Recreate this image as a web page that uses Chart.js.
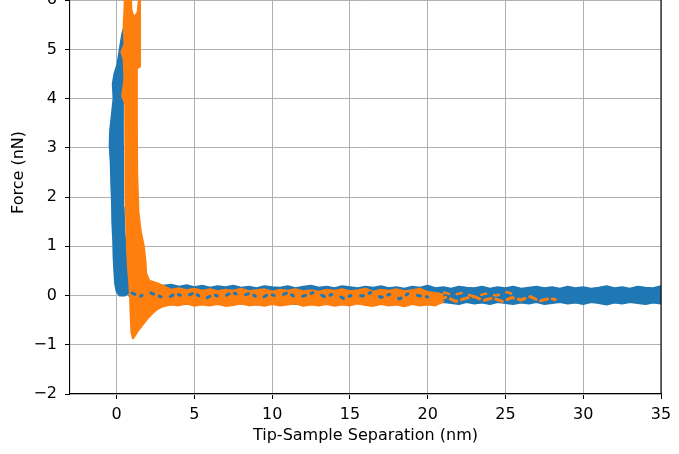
<!DOCTYPE html>
<html><head><meta charset="utf-8">
<script src="https://cdn.jsdelivr.net/npm/chart.js@4.4.1/dist/chart.umd.min.js"></script>
<style>
html,body{margin:0;padding:0;background:#fff;overflow:hidden;width:679px;height:454px}
#wrap{position:relative;width:679px;height:454px;overflow:hidden;background:#fff}
#c{position:absolute;left:0;top:-70px}
</style></head>
<body><div id="wrap"><canvas id="c" width="679" height="524"></canvas></div>
<script>
// ---- axis ticks ----
const xTicks = [0, 5, 10, 15, 20, 25, 30, 35];
const yTicks = [-2, -1, 0, 1, 2, 3, 4, 5, 6];

// ---- approach (blue): contact region outline ----
const blueContactX = [0.55,0.35,0.2,0.05,-0.15,-0.25,-0.2,-0.3,-0.42,-0.45,-0.38,-0.35,-0.3,-0.28,-0.22,-0.2,-0.15,-0.1,0.0,0.2,0.5,0.75,0.9,
                      0.85,0.75,0.6,0.5,0.45,0.42,0.4,0.4,0.42,0.5,0.6,0.62];
const blueContactY = [5.55,5.3,5.0,4.7,4.5,4.3,4.0,3.7,3.35,3.05,2.7,2.3,1.9,1.5,1.1,0.8,0.5,0.25,0.08,0.0,0.0,0.05,0.15,
                      0.35,0.6,0.9,1.3,1.8,2.5,3.2,3.8,4.3,4.8,5.2,5.5];

// ---- approach (blue): non-contact baseline band ----
const blueTailX = [0.8,1.2,1.6,2.0,2.5,3.0,3.5,4.0,4.5,5.0,5.5,6.0,6.5,7.0,7.5,8.0,8.5,9.0,9.5,10.0,10.5,11.0,11.5,12.0,12.5,13.0,13.5,14.0,14.5,15.0,15.5,16.0,16.5,17.0,17.5,18.0,18.5,19.0,19.5,20.0,20.5,21.0,21.5,22.0,22.5,23.0,23.5,24.0,24.5,25.0,25.5,26.0,26.5,27.0,27.5,28.0,28.5,29.0,29.5,30.0,30.5,31.0,31.5,32.0,32.5,33.0,33.5,34.0,34.5,35.0,35.3];
const blueUpper = [0.18,0.22,0.25,0.2,0.24,0.2,0.22,0.18,0.21,0.17,0.2,0.16,0.19,0.17,0.2,0.16,0.18,0.15,0.19,0.17,0.16,0.19,0.15,0.18,0.2,0.16,0.18,0.15,0.19,0.17,0.15,0.18,0.16,0.19,0.15,0.17,0.14,0.18,0.16,0.2,0.15,0.17,0.14,0.18,0.16,0.15,0.18,0.14,0.17,0.15,0.18,0.14,0.16,0.18,0.15,0.17,0.14,0.18,0.15,0.17,0.14,0.16,0.19,0.15,0.17,0.14,0.18,0.16,0.15,0.19,0.17];
const blueLower = [0.0,-0.08,-0.12,-0.1,-0.14,-0.12,-0.16,-0.13,-0.17,-0.14,-0.16,-0.13,-0.17,-0.15,-0.13,-0.16,-0.14,-0.18,-0.15,-0.13,-0.16,-0.14,-0.17,-0.13,-0.15,-0.18,-0.14,-0.16,-0.13,-0.17,-0.14,-0.16,-0.13,-0.15,-0.18,-0.14,-0.16,-0.13,-0.17,-0.14,-0.16,-0.13,-0.15,-0.17,-0.13,-0.16,-0.14,-0.17,-0.13,-0.15,-0.17,-0.14,-0.16,-0.13,-0.17,-0.15,-0.13,-0.16,-0.14,-0.17,-0.13,-0.15,-0.18,-0.14,-0.16,-0.13,-0.15,-0.17,-0.14,-0.16,-0.14];
const blueSpeckX = [1.0,1.5,2.0,2.6,3.2,3.8,4.4,5.0,5.6,6.2,6.8,7.4,8.0,8.6,9.2,9.8,10.4,11.0,11.6,12.2,12.8,13.4,14.0,14.6,15.2,15.8,16.4,17.0,17.6,18.2,18.8,19.4,20.0];
const blueSpeckY = [0.05,-0.02,0.08,0.0,-0.06,0.04,-0.03,0.06,-0.08,0.02,-0.04,0.07,-0.01,0.05,-0.07,0.03,-0.02,0.06,-0.05,0.01,0.08,-0.03,0.04,-0.06,0.02,-0.01,0.07,-0.04,0.03,-0.07,0.05,0.0,-0.03];

// ---- retract (orange): contact + adhesion region outline ----
const orangeContactX = [0.55,0.5,0.45,0.5,0.3,0.45,0.5,0.35,0.55,0.55,0.56,0.58,0.6,0.62,0.66,0.72,0.8,0.86,0.9,0.95,1.05,
                        1.2,1.4,1.7,1.95,2.3,2.6,3.0,3.3,
                        3.3,2.6,2.1,1.9,1.85,1.75,1.55,1.4,1.32,1.3,1.3,1.45,1.5,
                        1.42,1.35,1.1,0.95,0.9];
const orangeContactY = [6.3,5.8,5.5,5.1,4.95,4.8,4.4,4.05,3.9,3.5,3.0,2.5,2.0,1.5,1.0,0.6,0.3,0.0,-0.4,-0.75,-0.87,
                        -0.8,-0.7,-0.58,-0.48,-0.36,-0.28,-0.2,-0.15,
                        0.15,0.25,0.3,0.45,0.7,1.0,1.3,1.7,2.5,3.5,4.6,4.65,6.3,
                        6.0,5.75,5.65,5.8,6.3];

// ---- retract (orange): baseline band ----
const orangeTailX = [1.5,1.8,2.1,2.5,3.0,3.5,4.0,4.5,5.0,5.5,6.0,6.5,7.0,7.5,8.0,8.5,9.0,9.5,10.0,10.5,11.0,11.5,12.0,12.5,13.0,13.5,14.0,14.5,15.0,15.5,16.0,16.5,17.0,17.5,18.0,18.5,19.0,19.5,20.0,20.5,21.0];
const orangeUpper = [0.3,0.22,0.2,0.16,0.18,0.12,0.15,0.11,0.14,0.1,0.13,0.09,0.12,0.1,0.14,0.09,0.11,0.13,0.08,0.12,0.1,0.13,0.09,0.11,0.08,0.12,0.1,0.13,0.09,0.11,0.14,0.08,0.12,0.1,0.13,0.09,0.11,0.14,0.07,0.05,0.02];
const orangeLower = [-0.5,-0.45,-0.35,-0.28,-0.22,-0.18,-0.2,-0.16,-0.21,-0.18,-0.2,-0.17,-0.21,-0.19,-0.16,-0.2,-0.18,-0.21,-0.17,-0.2,-0.18,-0.16,-0.21,-0.18,-0.2,-0.17,-0.21,-0.18,-0.2,-0.16,-0.19,-0.21,-0.17,-0.2,-0.18,-0.22,-0.17,-0.2,-0.18,-0.2,-0.12];
const orangeTailAX = [20.0,20.6,21.2,21.8,22.4,23.0,23.6,24.2,24.8,25.4,26.0,26.6,27.2,27.8,28.2];
const orangeTailAY = [-0.05,-0.1,-0.03,-0.12,-0.06,-0.02,-0.1,-0.05,-0.12,-0.04,-0.09,-0.02,-0.11,-0.06,-0.08];
const orangeTailBX = [19.5,20.2,20.9,21.6,22.3,23.0,23.7,24.4,25.1,25.6];
const orangeTailBY = [0.05,-0.02,0.08,0.01,0.06,-0.03,0.04,0.0,0.07,0.02];

const BLUE = '#1f77b4', ORANGE = '#ff7f0e';
const FONT = {family: "'DejaVu Sans', sans-serif", size: 16};
const pts = (xs, ys) => xs.map((x, i) => ({x: x, y: ys[i]}));
const fmt = v => (v < 0 ? '\u2212' + Math.abs(v) : String(v));

const layers = [
  {data: pts(blueTailX, blueUpper), borderColor: BLUE, borderWidth: 2, fill: false},
  {data: pts(blueTailX, blueLower), borderColor: BLUE, borderWidth: 2, fill: '-1', backgroundColor: BLUE},
  {data: pts(blueContactX, blueContactY), borderColor: BLUE, borderWidth: 2, fill: 'shape', backgroundColor: BLUE},
  {data: pts(orangeTailX, orangeUpper), borderColor: ORANGE, borderWidth: 2, fill: false},
  {data: pts(orangeTailX, orangeLower), borderColor: ORANGE, borderWidth: 2, fill: '-1', backgroundColor: ORANGE},
  {data: pts(orangeContactX, orangeContactY), borderColor: ORANGE, borderWidth: 2, fill: 'shape', backgroundColor: ORANGE},
  {data: pts(orangeTailAX, orangeTailAY), borderColor: ORANGE, borderWidth: 3, borderDash: [7, 5], fill: false},
  {data: pts(orangeTailBX, orangeTailBY), borderColor: ORANGE, borderWidth: 2.5, borderDash: [5, 8], fill: false},
  {data: pts(blueSpeckX, blueSpeckY), borderColor: BLUE, borderWidth: 3, borderDash: [3, 6, 2, 10], fill: false}
];
const datasets = layers.map((d, i) => Object.assign({
  pointRadius: 0, tension: 0, order: layers.length - i,
  borderJoinStyle: 'round', borderCapStyle: 'round'
}, d));

const spines = {
  id: 'spines',
  afterDatasetsDraw(chart) {
    const {ctx, chartArea: a} = chart;
    ctx.save();
    ctx.strokeStyle = '#000';
    ctx.lineWidth = 1.1;
    ctx.beginPath();
    ctx.moveTo(a.left, a.top); ctx.lineTo(a.right, a.top); ctx.lineTo(a.right, a.bottom);
    ctx.stroke();
    ctx.restore();
  }
};

new Chart(document.getElementById('c'), {
  type: 'line',
  data: {datasets: datasets},
  plugins: [spines],
  options: {
    responsive: false,
    animation: false,
    devicePixelRatio: 1,
    layout: {padding: {top: 21, right: 18, bottom: 0, left: 0}},
    plugins: {legend: {display: false}, tooltip: {enabled: false}},
    scales: {
      x: {
        type: 'linear', min: -3, max: 35,
        afterBuildTicks: s => { s.ticks = xTicks.map(v => ({value: v})); },
        afterFit: s => { s.height = 60; },
        ticks: {font: FONT, color: '#000', padding: 6, maxRotation: 0, autoSkip: false, callback: fmt},
        grid: {color: '#b0b0b0', lineWidth: 1, tickColor: '#000', tickLength: 5, tickWidth: 1},
        border: {color: '#000', width: 1.1},
        title: {display: true, text: 'Tip-Sample Separation (nm)', font: FONT, color: '#000', padding: {top: 0, bottom: 8.7}}
      },
      y: {
        type: 'linear', min: -2, max: 7,
        afterBuildTicks: s => { s.ticks = yTicks.map(v => ({value: v})); },
        afterFit: s => { s.width = 70; },
        ticks: {font: FONT, color: '#000', padding: 8, autoSkip: false, callback: fmt},
        grid: {color: '#b0b0b0', lineWidth: 1, tickColor: '#000', tickLength: 5, tickWidth: 1},
        border: {color: '#000', width: 1.1},
        title: {display: true, text: 'Force (nN)', font: FONT, color: '#000', padding: {top: 9.4, bottom: 0}}
      }
    }
  }
});
</script>
</body></html>
